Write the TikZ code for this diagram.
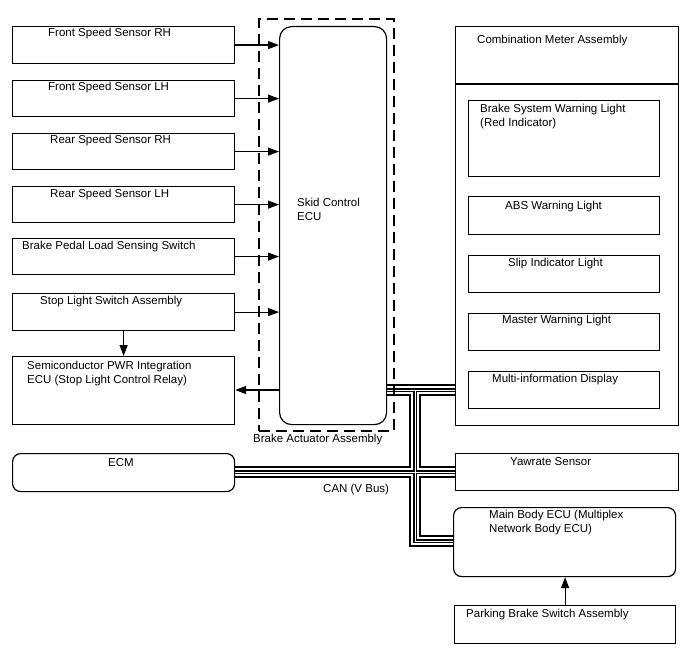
\documentclass[tikz,border=0pt]{standalone}
\usepackage{fontspec}
\setmainfont{Liberation Sans}
\usetikzlibrary{arrows.meta}
\pgfdeclarelayer{background}
\pgfsetlayers{background,main}
\newcommand\canbuspaths[1]{%
  \draw[#1] (ecu.east |- j1) -- (meter.west |- j1);
  \draw[#1] (j1) -- (j3) -- (mb.west |- j3);
  \draw[#1] (ecm.east |- j2) -- (yaw.west |- j2);
}
\begin{document}
\begin{tikzpicture}[x=1pt,y=-1pt,
  box/.style={draw, line width=1.2pt, inner sep=0pt, anchor=north west},
  txt/.style={inner sep=0pt, anchor=base west, align=left, font=\fontsize{11.5}{14}\selectfont},
  arr/.style={line width=1.2pt, -{Triangle[length=11pt,width=8pt]}},
  busA/.style={line width=12.5pt, line join=miter, black},
  busB/.style={line width=7.5pt, line join=miter, white},
  busC/.style={line width=3.2pt, line join=miter, black},
  busD/.style={line width=1pt, line join=miter, white},
]
\useasboundingbox (0,0) rectangle (688,658);

% left column
\node[box, minimum width=222pt, minimum height=37pt] (fs1) at (12,26) {};
\node[box, minimum width=222pt, minimum height=36pt] (fs2) at (12,80) {};
\node[box, minimum width=222pt, minimum height=36pt] (rs1) at (12,133) {};
\node[box, minimum width=222pt, minimum height=36pt] (rs2) at (12,186) {};
\node[box, minimum width=222pt, minimum height=36pt] (bp) at (12,238) {};
\node[box, minimum width=222pt, minimum height=37pt] (sl) at (12,293) {};
\node[box, minimum width=222pt, minimum height=68pt] (semi) at (12,356) {};

\node[txt] (tfs1) at (48,37) {Front Speed Sensor RH};
\node[txt] (tfs2) at (48,91) {Front Speed Sensor LH};
\node[txt] (trs1) at (50,144) {Rear Speed Sensor RH};
\node[txt] (trs2) at (50,197) {Rear Speed Sensor LH};
\node[txt] (tbp) at (22,249) {Brake Pedal Load Sensing Switch};
\node[txt] (tsl) at (40,304) {Stop Light Switch Assembly};
\node[txt] (tsemi) at (27,383) {Semiconductor PWR Integration\\ECU (Stop Light Control Relay)};

% brake actuator
\node[box, dashed, line width=1.6pt, dash pattern=on 11pt off 6pt, minimum width=135pt, minimum height=412pt] (baa) at (258,18) {};
\node[box, rounded corners=12pt, minimum width=107pt, minimum height=398pt] (ecu) at (279,26) {};
\node[txt] (tecu) at (297,220) {Skid Control\\ECU};
\node[txt] (tbaa) at (253,442) {Brake Actuator Assembly};

% combination meter
\node[box, minimum width=223pt, minimum height=399pt] (meter) at (455,26) {};
\coordinate (dl) at (455,84);
\coordinate (dr) at (678,84);
\draw[line width=1.2pt] (dl) -- (dr);
\node[txt] (tmeter) at (477,44) {Combination Meter Assembly};
\node[box, minimum width=191pt, minimum height=76pt] (bsw) at (468,100) {};
\node[box, minimum width=191pt, minimum height=38pt] (abs) at (468,196) {};
\node[box, minimum width=191pt, minimum height=37pt] (slip) at (468,255) {};
\node[box, minimum width=191pt, minimum height=37pt] (mwl) at (468,313) {};
\node[box, minimum width=191pt, minimum height=37pt] (mid) at (468,371) {};
\node[txt] (tbsw) at (480,127) {Brake System Warning Light\\(Red Indicator)};
\node[txt] (tabs) at (505,209) {ABS Warning Light};
\node[txt] (tslip) at (508,266) {Slip Indicator Light};
\node[txt] (tmwl) at (502,323) {Master Warning Light};
\node[txt] (tmid) at (492,382) {Multi-information Display};

% bottom
\node[box, rounded corners=8pt, minimum width=222pt, minimum height=38pt] (ecm) at (12,453) {};
\node[txt] (tecm) at (108,466) {ECM};
\node[box, minimum width=223pt, minimum height=37pt] (yaw) at (455,453) {};
\node[txt] (tyaw) at (510,465) {Yawrate Sensor};
\node[box, rounded corners=8pt, minimum width=222pt, minimum height=69pt] (mb) at (453,507) {};
\node[txt] (tmb) at (489,532) {Main Body ECU (Multiplex\\Network Body ECU)};
\node[box, minimum width=221pt, minimum height=38pt] (pb) at (454,605) {};
\node[txt] (tpb) at (466,617) {Parking Brake Switch Assembly};
\node[txt] (tcan) at (323,492) {CAN (V Bus)};

% arrows
\foreach \s in {fs1,fs2,rs1,rs2,bp,sl}{
  \draw[arr] (\s.east) -- (ecu.west |- \s.east);
}
\coordinate (a7) at (0,390);
\draw[arr] (ecu.west |- a7) -- (semi.east |- a7);
\draw[arr] (sl.south) -- (semi.north);
\draw[arr] (pb.north) -- (mb.south -| pb.north);

% CAN bus
\coordinate (j1) at (415,390);
\coordinate (j2) at (415,472);
\coordinate (j3) at (415,541);
\begin{pgfonlayer}{background}
\canbuspaths{busA}
\canbuspaths{busB}
\canbuspaths{busC}
\canbuspaths{busD}
\end{pgfonlayer}
\end{tikzpicture}
\end{document}
